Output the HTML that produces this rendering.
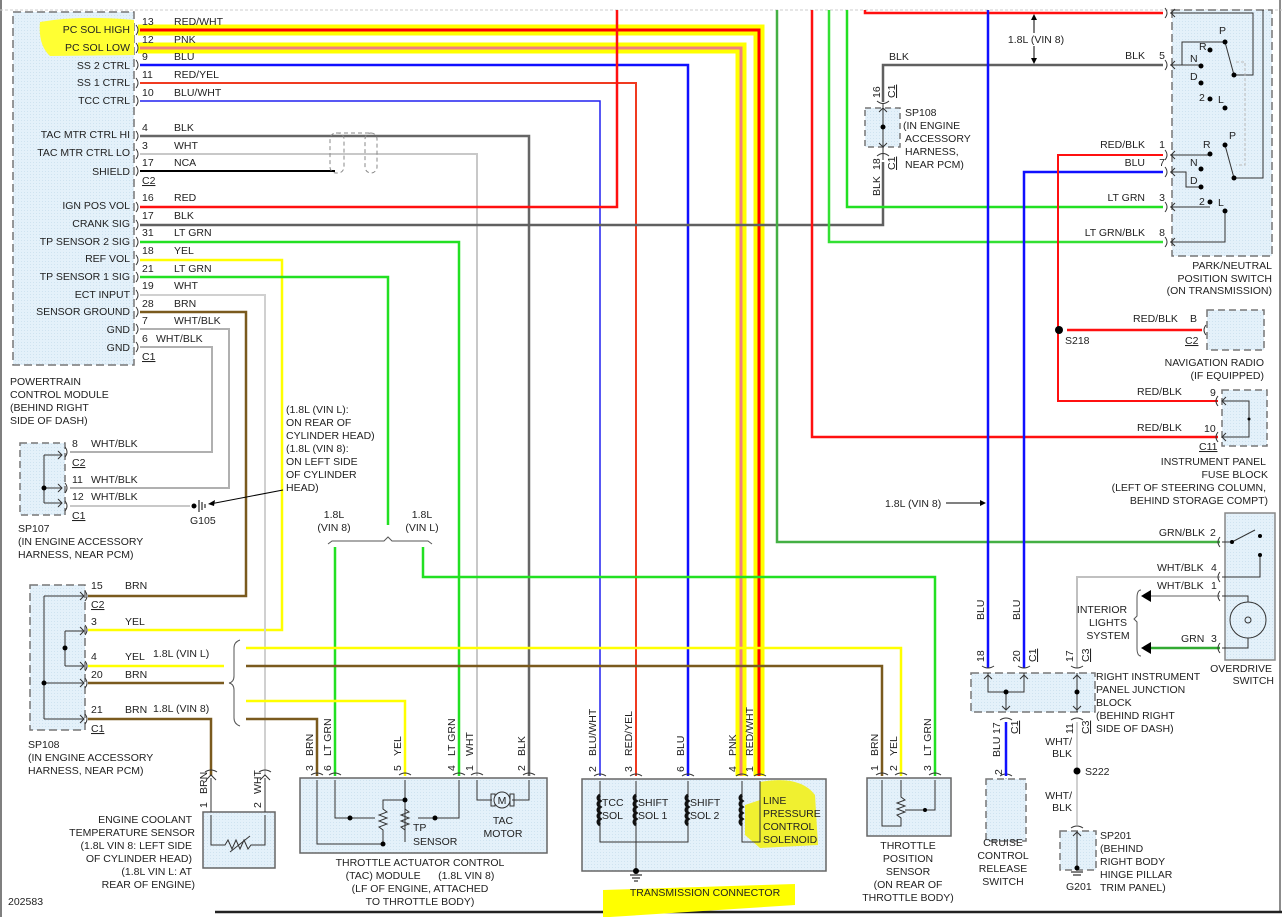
<!DOCTYPE html>
<html><head><meta charset="utf-8"><style>
html,body{margin:0;padding:0;background:#fff}
svg{display:block}
text{font-family:"Liberation Sans",Arial,sans-serif;font-size:10.5px;fill:#222}
.e{text-anchor:end}.m{text-anchor:middle}
.w{fill:none;stroke-linejoin:miter}
</style></head><body>
<svg width="1282" height="917" viewBox="0 0 1282 917" xmlns="http://www.w3.org/2000/svg">
<defs>
<pattern id="dots" width="3" height="3" patternUnits="userSpaceOnUse"><rect width="3" height="3" fill="#e4f1fa"/><rect width="1" height="1" fill="#cfe3f0"/></pattern>
</defs>
<line x1="1" y1="0" x2="1" y2="917" stroke="#555" stroke-width="1.5"/>
<line x1="1280" y1="0" x2="1280" y2="912" stroke="#666" stroke-width="1.5"/>
<line x1="215" y1="912" x2="1282" y2="912" stroke="#222" stroke-width="2.5"/>
<line x1="0" y1="10" x2="1282" y2="10" stroke="#ccc" stroke-dasharray="3 2"/>

<path class="w" d="M138,30 H759 V776" stroke="#ffff00" stroke-width="11"/>
<path class="w" d="M138,48 H741 V776" stroke="#ffff00" stroke-width="11"/>
<path d="M603,890 L795,884 L795,905 L610,917 L603,917Z" fill="#ffff00"/>

<rect x="13" y="12" width="121" height="353" fill="url(#dots)" stroke="#777" stroke-width="1.5" stroke-dasharray="8 4"/>
<path d="M40,22 Q80,15 134,20 L134,55 L50,56 Q38,45 40,22Z" fill="#ffff33"/>
<g>
<text x="130" y="33" class="e">PC SOL HIGH</text>
<text x="130" y="51" class="e">PC SOL LOW</text>
<text x="130" y="69" class="e">SS 2 CTRL</text>
<text x="130" y="86" class="e">SS 1 CTRL</text>
<text x="130" y="104" class="e">TCC CTRL</text>
<text x="130" y="138" class="e">TAC MTR CTRL HI</text>
<text x="130" y="156" class="e">TAC MTR CTRL LO</text>
<text x="130" y="175" class="e">SHIELD</text>
<text x="130" y="209" class="e">IGN POS VOL</text>
<text x="130" y="227" class="e">CRANK SIG</text>
<text x="130" y="245" class="e">TP SENSOR 2 SIG</text>
<text x="130" y="262" class="e">REF VOL</text>
<text x="130" y="280" class="e">TP SENSOR 1 SIG</text>
<text x="130" y="298" class="e">ECT INPUT</text>
<text x="130" y="315" class="e">SENSOR GROUND</text>
<text x="130" y="333" class="e">GND</text>
<text x="130" y="351" class="e">GND</text>
</g>
<g>
<text x="142" y="25">13</text><text x="174" y="25">RED/WHT</text>
<text x="142" y="43">12</text><text x="174" y="43">PNK</text>
<text x="142" y="60">9</text><text x="174" y="60">BLU</text>
<text x="142" y="78">11</text><text x="174" y="78">RED/YEL</text>
<text x="142" y="96">10</text><text x="174" y="96">BLU/WHT</text>
<text x="142" y="131">4</text><text x="174" y="131">BLK</text>
<text x="142" y="149">3</text><text x="174" y="149">WHT</text>
<text x="142" y="166">17</text><text x="174" y="166">NCA</text>
<text x="142" y="184" text-decoration="underline">C2</text>
<text x="142" y="201">16</text><text x="174" y="201">RED</text>
<text x="142" y="219">17</text><text x="174" y="219">BLK</text>
<text x="142" y="236">31</text><text x="174" y="236">LT GRN</text>
<text x="142" y="254">18</text><text x="174" y="254">YEL</text>
<text x="142" y="272">21</text><text x="174" y="272">LT GRN</text>
<text x="142" y="289">19</text><text x="174" y="289">WHT</text>
<text x="142" y="307">28</text><text x="174" y="307">BRN</text>
<text x="142" y="324">7</text><text x="174" y="324">WHT/BLK</text>
<text x="142" y="342">6</text><text x="156" y="342">WHT/BLK</text>
<text x="142" y="360" text-decoration="underline">C1</text>
</g>
<g stroke="#333" fill="none" stroke-width="1">
<path d="M136,25 q4,5 0,10 M136,43 q4,5 0,10 M136,60 q4,5 0,10 M136,78 q4,5 0,10 M136,96 q4,5 0,10 M136,131 q4,5 0,10 M136,149 q4,5 0,10 M136,166 q4,5 0,10 M136,202 q4,5 0,10 M136,220 q4,5 0,10 M136,237 q4,5 0,10 M136,255 q4,5 0,10 M136,272 q4,5 0,10 M136,290 q4,5 0,10 M136,307 q4,5 0,10 M136,324 q4,5 0,10 M136,342 q4,5 0,10"/>
</g>
<text x="10" y="385">POWERTRAIN</text>
<text x="10" y="398">CONTROL MODULE</text>
<text x="10" y="411">(BEHIND RIGHT</text>
<text x="10" y="424">SIDE OF DASH)</text>

<path class="w" d="M140,30 H759 V776" stroke="#ff0000" stroke-width="3"/>
<path class="w" d="M140,48 H741 V776" stroke="#f08080" stroke-width="3"/>
<path class="w" d="M140,65 H688 V776" stroke="#1010ff" stroke-width="2.5"/>
<path class="w" d="M140,83 H636 V776" stroke="#f03a20" stroke-width="2"/>
<path class="w" d="M140,101 H600 V776" stroke="#2020f0" stroke-width="1.5"/>
<path class="w" d="M140,136 H529 V776" stroke="#666" stroke-width="2.5"/>
<path class="w" d="M140,154 H477 V776" stroke="#c8c8c8" stroke-width="2"/>
<path class="w" d="M140,171 H335" stroke="#000" stroke-width="2"/>
<g fill="none" stroke="#888" stroke-dasharray="4 3"><rect x="330" y="133" width="14" height="40" rx="6"/><rect x="365" y="133" width="12" height="40" rx="6"/><line x1="337" y1="133" x2="371" y2="133"/></g>
<path class="w" d="M140,207 H617 V10" stroke="#ff1010" stroke-width="2.5"/>
<path class="w" d="M140,225 H883 V162 M883,102 V65 H1163" stroke="#606060" stroke-width="2.5"/>
<path class="w" d="M140,242 H459 V776" stroke="#22e022" stroke-width="2.5"/>
<path class="w" d="M140,260 H282 V630 H88" stroke="#ffff00" stroke-width="2.5"/>
<path class="w" d="M140,277 H388 V525" stroke="#22e022" stroke-width="2.5"/>
<path class="w" d="M140,295 H265 V776" stroke="#d0d0d0" stroke-width="2"/>
<path class="w" d="M140,312 H246 V596 H88" stroke="#7a5a1e" stroke-width="2.5"/>
<path class="w" d="M140,329 H229 V488 H70" stroke="#b0b0b0" stroke-width="2"/>
<path class="w" d="M140,347 H212 V452 H70" stroke="#b0b0b0" stroke-width="2"/>
<path class="w" d="M70,506 H190" stroke="#c8c8c8" stroke-width="2"/>

<rect x="20" y="443" width="45" height="72" fill="url(#dots)" stroke="#777" stroke-width="1.5" stroke-dasharray="7 4"/>
<path d="M44,455 V503 M44,455 H62 M44,488 H62 M44,503 H62 M58,451 l4,4 -4,4 M58,484 l4,4 -4,4 M58,499 l4,4 -4,4" stroke="#333" fill="none"/>
<circle cx="44" cy="488" r="2.5" fill="#000"/>
<g stroke="#333" fill="none"><path d="M65,447 q4,5 0,10 M65,483 q4,5 0,10 M65,501 q4,5 0,10"/></g>
<text x="72" y="447">8</text><text x="91" y="447">WHT/BLK</text>
<text x="72" y="466" text-decoration="underline">C2</text>
<text x="72" y="483">11</text><text x="91" y="483">WHT/BLK</text>
<text x="72" y="500">12</text><text x="91" y="500">WHT/BLK</text>
<text x="72" y="519" text-decoration="underline">C1</text>
<text x="18" y="532">SP107</text>
<text x="18" y="545">(IN ENGINE ACCESSORY</text>
<text x="18" y="558">HARNESS, NEAR PCM)</text>
<circle cx="194" cy="506" r="2.5" fill="#000"/>
<path d="M199,500 V512 M202,502 V510 M205,504 V508" stroke="#000"/>
<text x="190" y="524">G105</text>
<path d="M283,490 L210,504" stroke="#000"/><path d="M208,504 l7,-4 -1,6z" fill="#000"/>
<text x="286" y="413">(1.8L (VIN L):</text>
<text x="286" y="426">ON REAR OF</text>
<text x="286" y="439">CYLINDER HEAD)</text>
<text x="286" y="452">(1.8L (VIN 8):</text>
<text x="286" y="465">ON LEFT SIDE</text>
<text x="286" y="478">OF CYLINDER</text>
<text x="286" y="491">HEAD)</text>

<text x="334" y="518" class="m">1.8L</text><text x="334" y="531" class="m">(VIN 8)</text>
<text x="422" y="518" class="m">1.8L</text><text x="422" y="531" class="m">(VIN L)</text>
<path d="M328,544 l4,-3 H384 l4,-4 4,4 H428 l4,3" stroke="#555" fill="none"/>
<path class="w" d="M335,547 V776" stroke="#22e022" stroke-width="2.5"/>
<path class="w" d="M423,547 V577 H935 V776" stroke="#22e022" stroke-width="2.5"/>

<rect x="30" y="585" width="55" height="145" fill="url(#dots)" stroke="#777" stroke-width="1.5" stroke-dasharray="8 4"/>
<path d="M44,596 V719 M44,596 H84 M44,683 H84 M44,719 H84 M65,631 V666 M65,631 H84 M65,666 H84" stroke="#333" fill="none"/>
<path d="M80,592 l4,4 -4,4 M80,627 l4,4 -4,4 M80,662 l4,4 -4,4 M80,679 l4,4 -4,4 M80,715 l4,4 -4,4" stroke="#333" fill="none"/>
<circle cx="44" cy="683" r="2.5" fill="#000"/><circle cx="65" cy="648" r="2.5" fill="#000"/>
<g stroke="#333" fill="none"><path d="M85,591 q4,5 0,10 M85,625 q4,5 0,10 M85,661 q4,5 0,10 M85,678 q4,5 0,10 M85,714 q4,5 0,10"/></g>
<text x="91" y="589">15</text><text x="125" y="589">BRN</text>
<text x="91" y="608" text-decoration="underline">C2</text>
<text x="91" y="625">3</text><text x="125" y="625">YEL</text>
<text x="91" y="660">4</text><text x="125" y="660">YEL</text><text x="153" y="657">1.8L (VIN L)</text>
<text x="91" y="678">20</text><text x="125" y="678">BRN</text>
<text x="91" y="713">21</text><text x="125" y="713">BRN</text><text x="153" y="712">1.8L (VIN 8)</text>
<text x="91" y="732" text-decoration="underline">C1</text>
<text x="28" y="748">SP108</text>
<text x="28" y="761">(IN ENGINE ACCESSORY</text>
<text x="28" y="774">HARNESS, NEAR PCM)</text>
<path class="w" d="M88,666 H224" stroke="#ffff00" stroke-width="2.5"/>
<path class="w" d="M88,683 H224" stroke="#7a5a1e" stroke-width="2.5"/>
<path class="w" d="M88,719 H211 V776" stroke="#7a5a1e" stroke-width="2.5"/>
<path d="M240,640 q-6,2 -6,8 V676 q0,6 -5,7 q5,1 5,7 V718 q0,6 6,8" stroke="#555" fill="none"/>
<path class="w" d="M246,648 H901 V776" stroke="#ffff00" stroke-width="2.5"/>
<path class="w" d="M246,666 H882 V776" stroke="#7a5a1e" stroke-width="2.5"/>
<path class="w" d="M246,701 H405 V776" stroke="#ffff00" stroke-width="2.5"/>
<path class="w" d="M246,719 H317 V776" stroke="#7a5a1e" stroke-width="2.5"/>

<g stroke="#333" fill="none">
<path d="M206,780 l5,-5 5,5 M260,780 l5,-5 5,5 M312,783 l5,-5 5,5 M330,783 l5,-5 5,5 M400,783 l5,-5 5,5 M454,783 l5,-5 5,5 M472,783 l5,-5 5,5 M524,783 l5,-5 5,5 M595,784 l5,-5 5,5 M631,784 l5,-5 5,5 M683,784 l5,-5 5,5 M737,784 l5,-5 5,5 M755,784 l5,-5 5,5 M877,783 l5,-5 5,5 M896,783 l5,-5 5,5 M930,783 l5,-5 5,5 M1001,784 l5,-5 5,5"/>
<path d="M205,772 q6,-4 12,0 M259,772 q6,-4 12,0 M311,775 q6,-4 12,0 M329,775 q6,-4 12,0 M399,775 q6,-4 12,0 M453,775 q6,-4 12,0 M471,775 q6,-4 12,0 M523,775 q6,-4 12,0 M594,776 q6,-4 12,0 M630,776 q6,-4 12,0 M682,776 q6,-4 12,0 M736,776 q6,-4 12,0 M754,776 q6,-4 12,0 M876,775 q6,-4 12,0 M895,775 q6,-4 12,0 M929,775 q6,-4 12,0 M1000,776 q6,-4 12,0"/>
</g>

<rect x="203" y="812" width="72" height="56" fill="url(#dots)" stroke="#666" stroke-width="1.5"/>
<path d="M211,778 V812 M265,778 V812 M211,815 V845 H225 l3,-5 4,9 4,-9 4,9 4,-9 4,9 3,-4 H265 V815" stroke="#333" fill="none"/>
<path d="M230,852 L250,836" stroke="#333"/>
<text transform="translate(207,808) rotate(-90)">1</text><text transform="translate(207,794) rotate(-90)">BRN</text>
<text transform="translate(261,808) rotate(-90)">2</text><text transform="translate(261,794) rotate(-90)">WHT</text>
<text x="192" y="823" class="e">ENGINE COOLANT</text>
<text x="195" y="836" class="e">TEMPERATURE SENSOR</text>
<text x="192" y="849" class="e">(1.8L VIN 8: LEFT SIDE</text>
<text x="192" y="862" class="e">OF CYLINDER HEAD)</text>
<text x="192" y="875" class="e">(1.8L VIN L: AT</text>
<text x="195" y="888" class="e">REAR OF ENGINE)</text>
<text x="8" y="905">202583</text>

<rect x="300" y="778" width="247" height="75" fill="url(#dots)" stroke="#666" stroke-width="1.5"/>
<g stroke="#333" fill="none">
<path d="M317,780 V844 H383 M335,780 V818 H375 M405,780 V842 M459,780 V818 H418"/>
<path d="M383,844 V830 l-4,-3 8,-3 -8,-3 8,-3 -8,-3 8,-3 -4,-3 V800 H405 M405,800 V830 l-4,-3 8,-3 -8,-3 8,-3 -8,-3 8,-3 -4,-3"/>
<path d="M477,780 V800 H492 M512,800 H529 V780"/>
</g>
<circle cx="350" cy="818" r="2.5" fill="#000"/><circle cx="435" cy="818" r="2.5" fill="#000"/><circle cx="405" cy="800" r="2.5" fill="#000"/><circle cx="383" cy="844" r="2.5" fill="#000"/>
<rect x="491" y="794" width="4" height="12" fill="none" stroke="#333"/><rect x="510" y="794" width="4" height="12" fill="none" stroke="#333"/>
<circle cx="502" cy="800" r="8" fill="#e4f1fa" stroke="#333"/><text x="502" y="804" class="m">M</text>
<text x="413" y="831">TP</text><text x="413" y="845">SENSOR</text>
<text x="503" y="824" class="m">TAC</text><text x="503" y="837" class="m">MOTOR</text>
<text transform="translate(313,771) rotate(-90)">3</text><text transform="translate(313,756) rotate(-90)">BRN</text>
<text transform="translate(331,771) rotate(-90)">6</text><text transform="translate(331,756) rotate(-90)">LT GRN</text>
<text transform="translate(401,771) rotate(-90)">5</text><text transform="translate(401,756) rotate(-90)">YEL</text>
<text transform="translate(455,771) rotate(-90)">4</text><text transform="translate(455,756) rotate(-90)">LT GRN</text>
<text transform="translate(473,771) rotate(-90)">1</text><text transform="translate(473,756) rotate(-90)">WHT</text>
<text transform="translate(525,771) rotate(-90)">2</text><text transform="translate(525,756) rotate(-90)">BLK</text>
<text x="420" y="866" class="m">THROTTLE ACTUATOR CONTROL</text>
<text x="420" y="879" class="m">(TAC) MODULE &#160;&#160;&#160;&#160;&#160;(1.8L VIN 8)</text>
<text x="420" y="892" class="m">(LF OF ENGINE, ATTACHED</text>
<text x="420" y="905" class="m">TO THROTTLE BODY)</text>

<rect x="582" y="779" width="244" height="92" fill="url(#dots)" stroke="#666" stroke-width="1.5"/>
<path d="M760,782 Q800,775 815,795 L818,845 L760,848 L745,835 L745,805 L760,800Z" fill="#f0f030"/>
<g stroke="#333" fill="none">
<path d="M600,781 V842 H688 V781 M636,781 V871 M742,781 V842 H760 V781"/>
</g>
<g stroke="#111" stroke-width="3" fill="none">
<path d="M600,795 q-4,3 0,6 q-4,3 0,6 q-4,3 0,6 q-4,3 0,6 q-4,3 0,6 M636,795 q-4,3 0,6 q-4,3 0,6 q-4,3 0,6 q-4,3 0,6 q-4,3 0,6 M688,795 q-4,3 0,6 q-4,3 0,6 q-4,3 0,6 q-4,3 0,6 q-4,3 0,6 M742,795 q-4,3 0,6 q-4,3 0,6 q-4,3 0,6 q-4,3 0,6 q-4,3 0,6"/>
</g>
<circle cx="636" cy="871" r="3" fill="#000"/>
<path d="M630,875 H642 M632,878 H640 M634,881 H638" stroke="#000"/>
<text x="602" y="806">TCC</text><text x="602" y="819">SOL</text>
<text x="638" y="806">SHIFT</text><text x="638" y="819">SOL 1</text>
<text x="690" y="806">SHIFT</text><text x="690" y="819">SOL 2</text>
<text x="763" y="804">LINE</text><text x="763" y="817">PRESSURE</text><text x="763" y="830">CONTROL</text><text x="763" y="843">SOLENOID</text>
<text x="705" y="896" class="m">TRANSMISSION CONNECTOR</text>
<text transform="translate(596,772) rotate(-90)">2</text><text transform="translate(596,756) rotate(-90)">BLU/WHT</text>
<text transform="translate(632,772) rotate(-90)">3</text><text transform="translate(632,756) rotate(-90)">RED/YEL</text>
<text transform="translate(684,772) rotate(-90)">6</text><text transform="translate(684,756) rotate(-90)">BLU</text>
<text transform="translate(736,772) rotate(-90)">4</text><text transform="translate(736,756) rotate(-90)">PNK</text>
<text transform="translate(753,772) rotate(-90)">1</text><text transform="translate(753,756) rotate(-90)">RED/WHT</text>

<rect x="867" y="778" width="84" height="58" fill="url(#dots)" stroke="#666" stroke-width="1.5"/>
<g stroke="#333" fill="none"><path d="M882,780 V826 H901 V818 l-4,-3 8,-3 -8,-3 8,-3 -8,-3 8,-3 -4,-3 V780 M905,810 H935 V780"/></g>
<circle cx="925" cy="810" r="2" fill="#000"/>
<text transform="translate(878,771) rotate(-90)">1</text><text transform="translate(878,756) rotate(-90)">BRN</text>
<text transform="translate(897,771) rotate(-90)">2</text><text transform="translate(897,756) rotate(-90)">YEL</text>
<text transform="translate(931,771) rotate(-90)">3</text><text transform="translate(931,756) rotate(-90)">LT GRN</text>
<text x="908" y="849" class="m">THROTTLE</text><text x="908" y="862" class="m">POSITION</text><text x="908" y="875" class="m">SENSOR</text><text x="908" y="888" class="m">(ON REAR OF</text><text x="908" y="901" class="m">THROTTLE BODY)</text>

<path class="w" d="M777,10 V542 H1220" stroke="#44b044" stroke-width="2.5"/>
<path class="w" d="M812,10 V437 H1218" stroke="#ff1010" stroke-width="2.5"/>
<path class="w" d="M829,10 V242 H1163" stroke="#33e033" stroke-width="2.5"/>
<path class="w" d="M847,10 V207 H1163" stroke="#22e022" stroke-width="2.5"/>
<path class="w" d="M865,10 V13 H1163" stroke="#ff1010" stroke-width="2.5"/>
<path class="w" d="M988,10 V668" stroke="#1010ff" stroke-width="2.5"/>
<path class="w" d="M1163,172 H1024 V668" stroke="#1010ff" stroke-width="2.5"/>
<path class="w" d="M1163,155 H1058 V401 H1218" stroke="#ff1010" stroke-width="2"/>
<path class="w" d="M1067,330 H1202" stroke="#ff1010" stroke-width="2.5"/>
<circle cx="1059" cy="330" r="4" fill="#000"/>
<text x="1065" y="344">S218</text>

<rect x="865" y="108" width="35" height="39" fill="url(#dots)" stroke="#777" stroke-width="1.5" stroke-dasharray="6 4"/>
<path d="M883,103 V160 M879,112 l4,-4 4,4 M879,143 l4,4 4,-4" stroke="#333" fill="none"/>
<path d="M877,101 q6,5 12,0 M877,156 q6,-5 12,0" stroke="#333" fill="none"/>
<circle cx="883" cy="127" r="2.5" fill="#000"/>
<text transform="translate(880,98) rotate(-90)">16</text><text transform="translate(895,98) rotate(-90)" text-decoration="underline">C1</text>
<text transform="translate(880,170) rotate(-90)">18</text><text transform="translate(895,170) rotate(-90)" text-decoration="underline">C1</text>
<text transform="translate(880,196) rotate(-90)">BLK</text>
<text x="889" y="60">BLK</text>
<text x="905" y="116">SP108</text><text x="903" y="129">(IN ENGINE</text><text x="905" y="142">ACCESSORY</text><text x="905" y="155">HARNESS,</text><text x="905" y="168">NEAR PCM)</text>
<path d="M1034,18 V62" stroke="#000"/><path d="M1031,20 l3,-6 3,6z M1031,58 l3,6 3,-6z" fill="#000"/>
<rect x="1006" y="33" width="60" height="13" fill="#fff"/>
<text x="1036" y="43" class="m">1.8L (VIN 8)</text>

<rect x="1172" y="10" width="100" height="246" fill="url(#dots)" stroke="#777" stroke-width="1.5" stroke-dasharray="8 4"/>
<g stroke="#333" fill="none">
<path d="M1165,8 q4,5 0,10 M1165,60 q4,5 0,10 M1165,150 q4,5 0,10 M1165,167 q4,5 0,10 M1165,202 q4,5 0,10 M1165,237 q4,5 0,10"/>
<path d="M1170,13 H1253 V75 H1234 L1225,42 M1170,65 H1201 M1182,65 V42 H1225"/>
<path d="M1170,155 H1210 M1170,172 H1186 V187 H1201 M1170,207 H1210 M1170,242 H1225 V211 M1225,145 L1234,178 H1263 V10"/>
<path d="M1175,9 l-4,4 4,4 M1175,61 l-4,4 4,4 M1175,151 l-4,4 4,4 M1175,168 l-4,4 4,4 M1175,203 l-4,4 4,4 M1175,238 l-4,4 4,4"/>
</g>
<path d="M1236,62 H1245 V165 H1236" stroke="#bbb" stroke-dasharray="3 2" fill="none"/>
<g fill="#000">
<circle cx="1225" cy="42" r="2.5"/><circle cx="1210" cy="50" r="2.5"/><circle cx="1201" cy="66" r="2.5"/><circle cx="1201" cy="83" r="2.5"/><circle cx="1210" cy="99" r="2.5"/><circle cx="1225" cy="108" r="2.5"/><circle cx="1234" cy="75" r="2.5"/>
<circle cx="1225" cy="145" r="2.5"/><circle cx="1210" cy="154" r="2.5"/><circle cx="1201" cy="169" r="2.5"/><circle cx="1201" cy="187" r="2.5"/><circle cx="1210" cy="202" r="2.5"/><circle cx="1225" cy="211" r="2.5"/><circle cx="1234" cy="178" r="2.5"/>
</g>
<text x="1219" y="34">P</text><text x="1199" y="50">R</text><text x="1190" y="62">N</text><text x="1190" y="80">D</text><text x="1199" y="101">2</text><text x="1218" y="103">L</text>
<text x="1229" y="139">P</text><text x="1203" y="148">R</text><text x="1190" y="166">N</text><text x="1190" y="184">D</text><text x="1199" y="205">2</text><text x="1218" y="206">L</text>
<text x="1145" y="59" class="e">BLK</text><text x="1165" y="59" class="e">5</text>
<text x="1145" y="148" class="e">RED/BLK</text><text x="1165" y="148" class="e">1</text>
<text x="1145" y="166" class="e">BLU</text><text x="1165" y="166" class="e">7</text>
<text x="1145" y="201" class="e">LT GRN</text><text x="1165" y="201" class="e">3</text>
<text x="1145" y="236" class="e">LT GRN/BLK</text><text x="1165" y="236" class="e">8</text>
<text x="1272" y="269" class="e">PARK/NEUTRAL</text>
<text x="1272" y="282" class="e">POSITION SWITCH</text>
<text x="1272" y="294" class="e">(ON TRANSMISSION)</text>

<rect x="1207" y="310" width="57" height="40" fill="url(#dots)" stroke="#777" stroke-width="1.5" stroke-dasharray="7 4"/>
<path d="M1206,325 q-4,5 0,10" stroke="#333" fill="none"/>
<text x="1133" y="322">RED/BLK</text><text x="1190" y="322">B</text>
<text x="1185" y="344" text-decoration="underline">C2</text>
<text x="1264" y="366" class="e">NAVIGATION RADIO</text>
<text x="1264" y="379" class="e">(IF EQUIPPED)</text>

<rect x="1222" y="390" width="45" height="56" fill="url(#dots)" stroke="#777" stroke-width="1.5" stroke-dasharray="7 4"/>
<path d="M1218,396 q-4,5 0,10 M1218,432 q-4,5 0,10 M1222,401 H1249 V437 H1222 M1226,397 l-4,4 4,4 M1226,433 l-4,4 4,4" stroke="#333" fill="none"/>
<circle cx="1249" cy="419" r="1.5" fill="#000"/>
<text x="1137" y="395">RED/BLK</text><text x="1210" y="396">9</text>
<text x="1137" y="431">RED/BLK</text><text x="1204" y="432">10</text>
<text x="1199" y="450" text-decoration="underline">C11</text>
<text x="1266" y="465" class="e">INSTRUMENT PANEL</text>
<text x="1268" y="478" class="e">FUSE BLOCK</text>
<text x="1266" y="491" class="e">(LEFT OF STEERING COLUMN,</text>
<text x="1268" y="504" class="e">BEHIND STORAGE COMPT)</text>
<text x="885" y="507">1.8L (VIN 8)</text>
<path d="M946,503 H982" stroke="#000"/><path d="M980,500 l6,3 -6,3z" fill="#000"/>

<rect x="1225" y="513" width="50" height="147" fill="url(#dots)" stroke="#888" stroke-width="1.5"/>
<path class="w" d="M1077,668 V577 H1220" stroke="#c0c0c0" stroke-width="2"/>
<path class="w" d="M1150,596 H1220" stroke="#b0b0b0" stroke-width="2"/>
<path class="w" d="M1150,648 H1220" stroke="#33aa33" stroke-width="2.5"/>
<path d="M1141,596 l10,-6 v12z M1141,648 l10,-6 v12z" fill="#000"/>
<path d="M1141,590 q-4,0 -4,8 V616 l-3,3 3,3 V648 q0,8 4,8" stroke="#555" fill="none"/>
<g stroke="#333" fill="none">
<path d="M1220,537 q-4,5 0,10 M1220,572 q-4,5 0,10 M1220,591 q-4,5 0,10 M1220,643 q-4,5 0,10"/>
<path d="M1222,542 H1232 L1255,530 M1222,577 H1260 V555 M1222,596 H1248 V602 M1248,638 V648 H1222"/>
</g>
<circle cx="1232" cy="542" r="2" fill="#000"/><circle cx="1260" cy="536" r="2" fill="#000"/><circle cx="1260" cy="555" r="2" fill="#000"/>
<circle cx="1248" cy="620" r="18" fill="none" stroke="#333"/><circle cx="1248" cy="620" r="3" fill="none" stroke="#333"/>
<text x="1205" y="536" class="e">GRN/BLK</text><text x="1210" y="536">2</text>
<text x="1157" y="571">WHT/BLK</text><text x="1211" y="571">4</text>
<text x="1157" y="589">WHT/BLK</text><text x="1211" y="589">1</text>
<text x="1181" y="642">GRN</text><text x="1211" y="642">3</text>
<text x="1102" y="613" class="m">INTERIOR</text><text x="1108" y="626" class="m">LIGHTS</text><text x="1108" y="639" class="m">SYSTEM</text>
<text x="1272" y="672" class="e">OVERDRIVE</text><text x="1274" y="684" class="e">SWITCH</text>

<rect x="971" y="673" width="124" height="39" fill="url(#dots)" stroke="#777" stroke-width="1.5" stroke-dasharray="8 4"/>
<g stroke="#333" fill="none">
<path d="M982,666 q6,4 12,0 M1018,666 q6,4 12,0 M1071,666 q6,4 12,0 M1000,720 q6,-4 12,0 M1071,720 q6,-4 12,0"/>
<path d="M988,673 V692 H1024 V673 M1006,692 V710 M1077,673 V712 M984,679 l4,-4 4,4 M1020,679 l4,-4 4,4 M1073,679 l4,-4 4,4 M1002,706 l4,4 4,-4 M1073,706 l4,4 4,-4"/>
</g>
<circle cx="1006" cy="692" r="2.5" fill="#000"/><circle cx="1077" cy="692" r="2.5" fill="#000"/>
<text transform="translate(984,662) rotate(-90)">18</text>
<text transform="translate(1020,662) rotate(-90)">20</text><text transform="translate(1036,662) rotate(-90)" text-decoration="underline">C1</text>
<text transform="translate(1073,662) rotate(-90)">17</text><text transform="translate(1089,662) rotate(-90)" text-decoration="underline">C3</text>
<text transform="translate(984,620) rotate(-90)">BLU</text><text transform="translate(1020,620) rotate(-90)">BLU</text>
<text x="1096" y="680">RIGHT INSTRUMENT</text><text x="1096" y="693">PANEL JUNCTION</text><text x="1096" y="706">BLOCK</text><text x="1096" y="719">(BEHIND RIGHT</text><text x="1096" y="732">SIDE OF DASH)</text>
<path class="w" d="M1006,722 V776" stroke="#1010ff" stroke-width="2.5"/>
<rect x="986" y="779" width="40" height="62" fill="url(#dots)" stroke="#777" stroke-width="1.5" stroke-dasharray="7 4"/>
<text transform="translate(1000,757) rotate(-90)">BLU</text><text transform="translate(1000,734) rotate(-90)">17</text><text transform="translate(1018,734) rotate(-90)" text-decoration="underline">C1</text>
<text transform="translate(1002,775) rotate(-90)">2</text>
<text x="1003" y="846" class="m">CRUISE</text><text x="1003" y="859" class="m">CONTROL</text><text x="1003" y="872" class="m">RELEASE</text><text x="1003" y="885" class="m">SWITCH</text>
<path class="w" d="M1077,722 V825" stroke="#d0d0d0" stroke-width="2"/>
<text transform="translate(1073,734) rotate(-90)">11</text><text transform="translate(1089,734) rotate(-90)" text-decoration="underline">C3</text>
<text x="1072" y="745" class="e">WHT/</text><text x="1072" y="757" class="e">BLK</text>
<circle cx="1077" cy="771" r="3.5" fill="#000"/><text x="1085" y="775">S222</text>
<text x="1072" y="799" class="e">WHT/</text><text x="1072" y="811" class="e">BLK</text>
<rect x="1060" y="831" width="36" height="39" fill="url(#dots)" stroke="#777" stroke-width="1.5" stroke-dasharray="7 4"/>
<path d="M1071,828 q6,-4 12,0 M1077,831 V868 M1073,836 l4,-4 4,4" stroke="#333" fill="none"/>
<circle cx="1077" cy="868" r="2.5" fill="#000"/><path d="M1071,872 H1083 M1073,875 H1081" stroke="#000"/>
<text x="1066" y="890">G201</text>
<text x="1100" y="839">SP201</text><text x="1100" y="852">(BEHIND</text><text x="1100" y="865">RIGHT BODY</text><text x="1100" y="878">HINGE PILLAR</text><text x="1100" y="891">TRIM PANEL)</text>
</svg>
</body></html>
